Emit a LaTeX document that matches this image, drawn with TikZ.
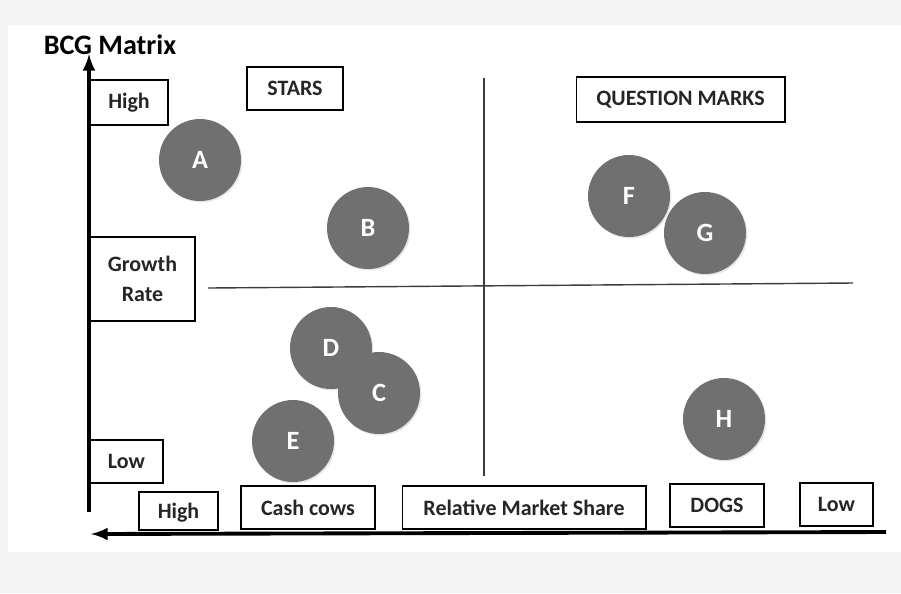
\documentclass[tikz,border=0pt]{standalone}
\usepackage{fontspec}
\setmainfont{Carlito}
\usepackage{tikz}
\usetikzlibrary{arrows,shapes,positioning,shadows}
\usepackage{xcolor}
\definecolor{bcgdisc}{RGB}{112,112,112}
\definecolor{bcgline}{RGB}{60,60,60}
\definecolor{bcgpage}{RGB}{243,243,243}
\tikzstyle{labelbox} = [rectangle, draw=black, fill=white, text centered, font=\fontsize{12.5}{17}\selectfont\bfseries, text=black!85, line width=0.6pt, inner sep=0pt]
\tikzstyle{product} = [circle, fill=bcgdisc, minimum size=1.64cm, inner sep=0pt, text=white, font=\fontsize{15}{17}\selectfont\bfseries, drop shadow={opacity=0.2, shadow xshift=0.8pt, shadow yshift=-0.8pt}]
\tikzstyle{axis} = [line width=2.2pt, ->, >=latex]
\tikzstyle{divider} = [line width=0.8pt, color=bcgline]

\begin{document}
\begin{tikzpicture}[x=0.02cm, y=-0.02cm]
% page
\fill[bcgpage] (0,0) rectangle (901,593);
\fill[white] (8,25) rectangle (901,552);
\useasboundingbox (0,0) rectangle (901,593);

% title
\node (title) at (110,45) [font=\fontsize{16}{18}\selectfont\bfseries] {BCG Matrix};

% axes
\coordinate (ybot) at (89,512);
\coordinate (ytop) at (89,54);
\coordinate (xright) at (886,532);
\coordinate (xleft) at (91,534);
\draw[axis] (ybot) -- (ytop);
\draw[axis] (xright) -- (xleft);

% quadrant lines
\coordinate (vtop) at (484,78);
\coordinate (vbot) at (484,476);
\coordinate (hleft) at (208,288);
\coordinate (hright) at (853,283);
\draw[divider] (vtop) -- (vbot);
\draw[divider] (hleft) -- (hright);

% label boxes
\node (highgr) [labelbox, minimum width=1.56cm, minimum height=0.9cm] at (129,102.5) {High};
\node (stars) [labelbox, minimum width=1.92cm, minimum height=0.86cm] at (295,88.5) {STARS};
\node (qmarks) [labelbox, minimum width=4.18cm, minimum height=0.9cm] at (680.5,99.5) {QUESTION MARKS};
\node (growth) [labelbox, minimum width=2.1cm, minimum height=1.68cm, align=center] at (142.5,279) {Growth\\Rate};
\node (lowgr) [labelbox, minimum width=1.46cm, minimum height=0.86cm] at (126.5,461.5) {Low};
\node (highms) [labelbox, minimum width=1.58cm, minimum height=0.76cm, text depth=-4pt] at (178.5,511) {High};
\node (cows) [labelbox, minimum width=2.68cm, minimum height=0.86cm] at (308,507.5) {Cash cows};
\node (share) [labelbox, minimum width=4.88cm, minimum height=0.86cm] at (524,507.5) {Relative Market Share};
\node (dogs) [labelbox, minimum width=1.88cm, minimum height=0.86cm] at (717,505.5) {DOGS};
\node (lowms) [labelbox, minimum width=1.46cm, minimum height=0.86cm] at (836.5,504.5) {Low};

% products
\node (a) [product] at (200,160) {A};
\node (b) [product] at (368,228) {B};
\node (c) [product] at (379,393) {C};
\node (d) [product] at (331,348) {D};
\node (e) [product] at (293,441) {E};
\node (f) [product] at (629,196) {F};
\node (g) [product] at (705,233) {G};
\node (h) [product] at (724,419) {H};
\end{tikzpicture}
\end{document}
